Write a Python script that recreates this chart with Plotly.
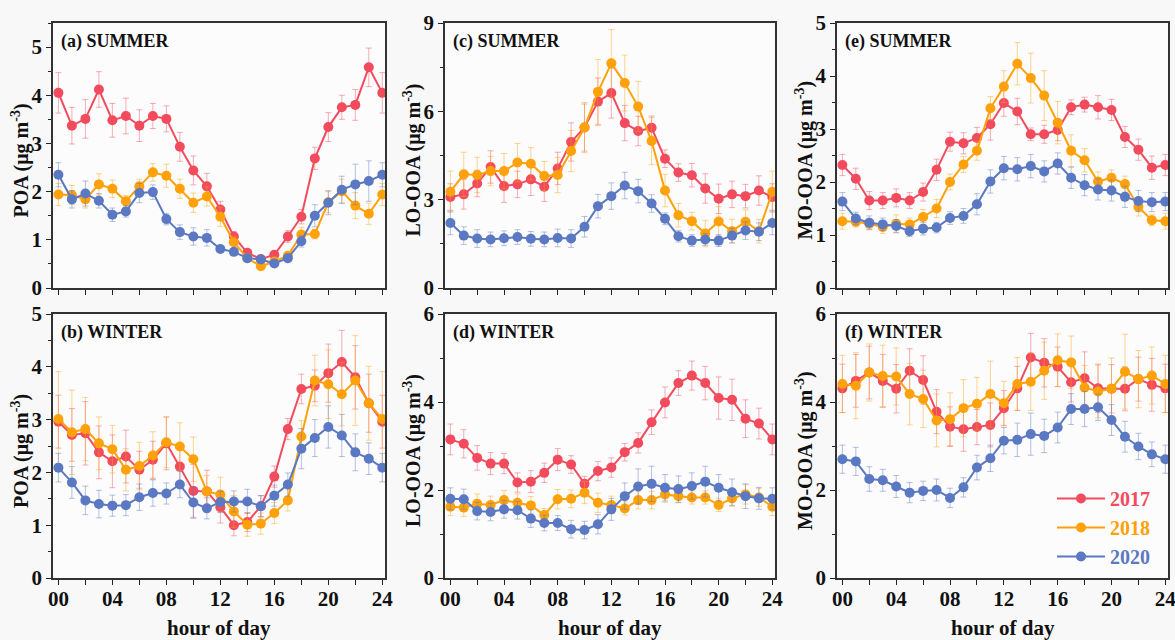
import plotly.graph_objects as go
from plotly.subplots import make_subplots

hours = list(range(25))
years = ["2017", "2018", "2020"]
colors = {"2017": "#F24B5D", "2018": "#FFA10A", "2020": "#5B78C2"}
err_colors = {"2017": "rgba(242,75,93,0.45)", "2018": "rgba(255,161,10,0.45)", "2020": "rgba(91,120,194,0.45)"}

x_ticktext = ["00", "04", "08", "12", "16", "20", "24"]
x_tickvals = [0, 4, 8, 12, 16, 20, 24]
x_title = "hour of day"

# (a) POA summer
poa_sum_2017 = [4.05,3.37,3.51,4.12,3.48,3.57,3.37,3.57,3.51,2.93,2.44,2.11,1.63,1.07,0.73,0.60,0.69,1.07,1.48,2.69,3.34,3.75,3.80,4.58,4.05]
poa_sum_2018 = [1.94,1.93,1.84,2.15,2.06,1.80,2.11,2.40,2.33,2.06,1.77,1.90,1.48,0.95,0.62,0.45,0.55,0.67,1.11,1.12,1.78,2.01,1.71,1.54,1.94]
poa_sum_2020 = [2.35,1.84,1.96,1.81,1.52,1.59,1.97,1.99,1.43,1.16,1.07,1.04,0.81,0.75,0.62,0.59,0.51,0.62,0.97,1.50,1.77,2.04,2.15,2.22,2.35]
poa_sum_2017_err = [0.42,0.38,0.4,0.37,0.35,0.37,0.33,0.26,0.27,0.3,0.3,0.27,0.17,0.1,0.06,0.05,0.06,0.12,0.15,0.23,0.3,0.25,0.32,0.4,0.42]
poa_sum_2018_err = [0.23,0.2,0.18,0.22,0.18,0.12,0.15,0.18,0.24,0.2,0.2,0.2,0.2,0.12,0.05,0.05,0.05,0.08,0.15,0.1,0.22,0.25,0.27,0.22,0.23]
poa_sum_2020_err = [0.25,0.18,0.26,0.15,0.14,0.12,0.2,0.15,0.12,0.15,0.18,0.17,0.07,0.05,0.05,0.04,0.05,0.08,0.12,0.23,0.25,0.28,0.42,0.42,0.25]

# (b) POA winter
poa_win_2017 = [2.96,2.71,2.74,2.38,2.21,2.30,2.05,2.24,2.55,2.11,1.65,1.64,1.34,1.00,1.06,1.36,1.92,2.82,3.58,3.64,3.88,4.09,3.80,3.31,2.96]
poa_win_2018 = [3.01,2.76,2.82,2.55,2.44,2.05,2.12,2.32,2.57,2.49,2.25,1.64,1.58,1.26,1.01,1.03,1.23,1.47,2.68,3.74,3.67,3.48,3.74,3.31,3.01]
poa_win_2020 = [2.09,1.81,1.47,1.40,1.37,1.38,1.53,1.61,1.60,1.77,1.43,1.32,1.44,1.45,1.45,1.36,1.56,1.77,2.45,2.65,2.86,2.70,2.38,2.26,2.09]
poa_win_2017_err = [0.5,0.5,0.6,0.5,0.5,0.5,0.35,0.35,0.5,0.4,0.5,0.4,0.3,0.2,0.18,0.2,0.2,0.2,0.28,0.3,0.55,0.6,0.6,0.55,0.5]
poa_win_2018_err = [0.9,0.8,0.6,0.5,0.45,0.4,0.45,0.45,0.48,0.45,0.42,0.3,0.33,0.3,0.22,0.2,0.2,0.2,0.3,0.48,0.65,0.6,0.85,0.7,0.9]
poa_win_2020_err = [0.27,0.3,0.27,0.26,0.2,0.2,0.25,0.25,0.2,0.25,0.3,0.2,0.2,0.2,0.23,0.2,0.2,0.22,0.38,0.35,0.4,0.4,0.35,0.3,0.27]

# (c) LO-OOA summer
lo_sum_2017 = [3.09,3.18,3.55,4.11,3.46,3.52,3.69,3.44,4.06,4.96,5.45,6.33,6.62,5.60,5.33,5.44,4.39,3.92,3.83,3.38,3.03,3.18,3.12,3.31,3.09]
lo_sum_2018 = [3.27,3.86,3.84,3.97,3.97,4.26,4.22,3.80,3.84,4.65,5.45,6.66,7.63,6.96,6.16,4.99,3.31,2.47,2.27,1.85,2.26,1.93,2.25,1.93,3.27]
lo_sum_2020 = [2.21,1.78,1.68,1.65,1.69,1.73,1.67,1.65,1.70,1.68,2.08,2.78,3.12,3.48,3.29,2.87,2.35,1.76,1.61,1.65,1.61,1.78,1.95,1.91,2.21]
lo_sum_2017_err = [0.45,0.5,0.45,0.55,0.55,0.45,0.55,0.5,0.55,0.65,0.8,0.8,0.85,0.6,0.5,0.4,0.3,0.3,0.4,0.5,0.5,0.45,0.4,0.5,0.45]
lo_sum_2018_err = [0.7,0.75,0.6,0.5,0.6,0.65,0.55,0.5,0.6,0.7,0.85,1.1,1.15,0.95,0.85,0.8,0.55,0.4,0.3,0.45,0.5,0.4,0.4,0.4,0.7]
lo_sum_2020_err = [0.4,0.3,0.3,0.25,0.25,0.25,0.25,0.25,0.3,0.3,0.35,0.4,0.45,0.45,0.4,0.3,0.2,0.2,0.2,0.2,0.2,0.25,0.3,0.3,0.4]

# (d) LO-OOA winter
lo_win_2017 = [3.15,3.05,2.73,2.60,2.60,2.17,2.19,2.39,2.69,2.58,2.14,2.43,2.51,2.86,3.07,3.54,3.99,4.43,4.60,4.43,4.09,4.05,3.62,3.51,3.15]
lo_win_2018 = [1.62,1.60,1.69,1.66,1.77,1.71,1.65,1.43,1.79,1.80,1.94,1.71,1.66,1.58,1.77,1.77,1.90,1.86,1.83,1.83,1.66,1.81,1.90,1.83,1.62]
lo_win_2020 = [1.80,1.79,1.52,1.50,1.56,1.54,1.35,1.25,1.25,1.11,1.09,1.22,1.56,1.86,2.08,2.14,2.05,2.02,2.09,2.19,2.05,1.95,1.86,1.81,1.80]
lo_win_2017_err = [0.35,0.32,0.28,0.25,0.23,0.22,0.25,0.22,0.25,0.2,0.17,0.22,0.22,0.2,0.23,0.28,0.35,0.28,0.33,0.38,0.48,0.47,0.43,0.35,0.35]
lo_win_2018_err = [0.2,0.2,0.22,0.2,0.22,0.2,0.2,0.15,0.22,0.2,0.25,0.22,0.2,0.15,0.2,0.2,0.18,0.15,0.15,0.15,0.15,0.18,0.22,0.2,0.2]
lo_win_2020_err = [0.25,0.23,0.2,0.2,0.2,0.2,0.2,0.18,0.17,0.2,0.2,0.22,0.25,0.3,0.4,0.4,0.3,0.3,0.3,0.35,0.3,0.3,0.28,0.25,0.25]

# (e) MO-OOA summer
mo_sum_2017 = [2.32,2.06,1.65,1.65,1.70,1.65,1.81,2.23,2.76,2.73,2.83,3.09,3.49,3.33,2.90,2.90,2.98,3.41,3.46,3.41,3.36,2.85,2.61,2.27,2.32]
mo_sum_2018 = [1.26,1.25,1.21,1.15,1.21,1.20,1.34,1.50,2.00,2.33,2.59,3.39,3.80,4.23,3.96,3.63,3.12,2.59,2.41,2.01,2.08,1.96,1.53,1.28,1.26]
mo_sum_2020 = [1.63,1.31,1.23,1.20,1.17,1.07,1.12,1.14,1.32,1.36,1.58,2.01,2.26,2.24,2.30,2.20,2.35,2.08,1.94,1.86,1.84,1.72,1.64,1.62,1.63]
mo_sum_2017_err = [0.2,0.2,0.17,0.15,0.17,0.15,0.17,0.2,0.18,0.2,0.2,0.3,0.25,0.25,0.12,0.17,0.2,0.14,0.14,0.22,0.2,0.2,0.2,0.22,0.2]
mo_sum_2018_err = [0.15,0.1,0.1,0.12,0.17,0.12,0.14,0.17,0.15,0.15,0.18,0.22,0.3,0.4,0.47,0.47,0.4,0.3,0.22,0.18,0.15,0.15,0.17,0.1,0.15]
mo_sum_2020_err = [0.17,0.12,0.13,0.12,0.12,0.1,0.12,0.1,0.12,0.14,0.2,0.22,0.22,0.22,0.22,0.2,0.2,0.2,0.2,0.2,0.2,0.2,0.2,0.18,0.17]

# (f) MO-OOA winter
mo_win_2017 = [4.31,4.48,4.67,4.48,4.30,4.71,4.50,3.78,3.44,3.38,3.43,3.48,3.86,4.31,5.01,4.89,4.80,4.45,4.54,4.31,4.30,4.30,4.52,4.39,4.31]
mo_win_2018 = [4.41,4.37,4.67,4.59,4.58,4.18,4.07,3.58,3.61,3.86,3.96,4.18,3.97,4.41,4.46,4.71,4.95,4.90,4.33,4.24,4.30,4.69,4.52,4.60,4.41]
mo_win_2020 = [2.70,2.65,2.25,2.22,2.08,1.94,1.98,2.00,1.82,2.06,2.51,2.72,3.12,3.14,3.27,3.23,3.42,3.84,3.84,3.88,3.59,3.21,2.99,2.81,2.70]
mo_win_2017_err = [0.55,0.6,0.6,0.6,0.55,0.5,0.55,0.5,0.45,0.5,0.4,0.5,0.4,0.5,0.55,0.55,0.45,0.45,0.6,0.55,0.55,0.5,0.5,0.6,0.55]
mo_win_2018_err = [0.65,0.75,0.65,0.7,0.65,0.7,0.65,0.6,0.6,0.65,0.6,0.75,0.5,0.6,0.65,0.65,0.6,0.6,0.5,0.6,0.7,0.85,0.65,0.65,0.65]
mo_win_2020_err = [0.32,0.32,0.28,0.25,0.25,0.23,0.22,0.25,0.22,0.22,0.28,0.3,0.3,0.38,0.48,0.38,0.35,0.35,0.4,0.3,0.35,0.35,0.3,0.28,0.32]

panels = [
    # (row, col, label, ytitle, ymax, dtick, data, errs)
    (1, 1, "(a) SUMMER", "POA (μg m<sup>-3</sup>)", 5.5, 1, [poa_sum_2017, poa_sum_2018, poa_sum_2020], [poa_sum_2017_err, poa_sum_2018_err, poa_sum_2020_err]),
    (2, 1, "(b) WINTER", "POA (μg m<sup>-3</sup>)", 5, 1, [poa_win_2017, poa_win_2018, poa_win_2020], [poa_win_2017_err, poa_win_2018_err, poa_win_2020_err]),
    (1, 2, "(c) SUMMER", "LO-OOA (μg m<sup>-3</sup>)", 9, 3, [lo_sum_2017, lo_sum_2018, lo_sum_2020], [lo_sum_2017_err, lo_sum_2018_err, lo_sum_2020_err]),
    (2, 2, "(d) WINTER", "LO-OOA (μg m<sup>-3</sup>)", 6, 2, [lo_win_2017, lo_win_2018, lo_win_2020], [lo_win_2017_err, lo_win_2018_err, lo_win_2020_err]),
    (1, 3, "(e) SUMMER", "MO-OOA (μg m<sup>-3</sup>)", 5, 1, [mo_sum_2017, mo_sum_2018, mo_sum_2020], [mo_sum_2017_err, mo_sum_2018_err, mo_sum_2020_err]),
    (2, 3, "(f) WINTER", "MO-OOA (μg m<sup>-3</sup>)", 6, 2, [mo_win_2017, mo_win_2018, mo_win_2020], [mo_win_2017_err, mo_win_2018_err, mo_win_2020_err]),
]

W, H = 1175, 640
col_px = {1: (53, 385), 2: (445, 775), 3: (837, 1168)}
row_px = {1: (23, 288), 2: (314, 578)}
ytitle_x = {1: 20, 2: 412, 3: 804}

FONT = "Liberation Serif"
TXT = "#111"
fig = make_subplots(rows=2, cols=3)

for (r, c, label, ytitle, ymax, dtick, data, errs) in panels:
    for yi, y in enumerate(years):
        fig.add_trace(go.Scatter(
            x=hours, y=data[yi], mode="lines+markers",
            name=f'<span style="color:{colors[y]}">{y}</span>',
            line=dict(color=colors[y], width=2),
            marker=dict(color=colors[y], size=10),
            error_y=dict(type="data", array=errs[yi], color=err_colors[y], thickness=1, width=3),
            showlegend=(r == 2 and c == 3),
            legendrank=yi,
        ), row=r, col=c)
    x0, x1 = col_px[c]
    y0, y1 = row_px[r]
    fig.update_xaxes(
        domain=[x0 / W, x1 / W], range=[-0.4, 24.2], automargin=False,
        tickvals=x_tickvals, ticktext=x_ticktext, showticklabels=(r == 2),
        ticks="outside", ticklen=5, tickwidth=1.2, tickcolor="#222",
        ticklabeloverflow="allow", ticklabelstandoff=-4,
        minor=dict(tickvals=[2, 6, 10, 14, 18, 22], ticks="outside", ticklen=5, tickwidth=1.2, tickcolor="#222"),
        showline=True, mirror=True, linecolor="#333", linewidth=1.5,
        showgrid=False, zeroline=False,
        tickfont=dict(family=FONT, size=21, color=TXT, weight="bold"),
        row=r, col=c,
    )
    fig.update_yaxes(
        domain=[1 - y1 / H, 1 - y0 / H], range=[0, ymax], automargin=False,
        dtick=dtick, tick0=0,
        ticks="outside", ticklen=5, tickwidth=1.2, tickcolor="#222",
        ticklabeloverflow="allow",
        minor=dict(dtick=dtick / 2, ticks="outside", ticklen=3, tickwidth=1.2, tickcolor="#222"),
        showline=True, mirror=True, linecolor="#333", linewidth=1.5,
        showgrid=False, zeroline=False,
        tickfont=dict(family=FONT, size=21, color=TXT, weight="bold"),
        row=r, col=c,
    )
    # panel label
    fig.add_annotation(
        x=(x0 + 6) / W, y=1 - (y0 + 18) / H, xref="paper", yref="paper",
        text=f"<b>{label}</b>", showarrow=False, xanchor="left", yanchor="middle",
        font=dict(family=FONT, size=18, color=TXT),
    )
    # y-axis title
    fig.add_annotation(
        x=ytitle_x[c] / W, y=1 - ((y0 + y1) / 2 + 5) / H, xref="paper", yref="paper",
        text=f"<b>{ytitle}</b>", showarrow=False, textangle=-90,
        xanchor="center", yanchor="middle",
        font=dict(family=FONT, size=20, color=TXT),
    )
    # x-axis title (bottom row only)
    if r == 2:
        fig.add_annotation(
            x=((x0 + x1) / 2) / W, y=1 - 628 / H, xref="paper", yref="paper",
            text=f"<b>{x_title}</b>", showarrow=False,
            xanchor="center", yanchor="middle",
            font=dict(family=FONT, size=21, color=TXT),
        )

fig.update_layout(
    width=W, height=H,
    margin=dict(l=0, r=0, t=0, b=0, autoexpand=False),
    paper_bgcolor="#f8f8f8", plot_bgcolor="#fcfcfc",
    font=dict(family=FONT, color=TXT),
    legend=dict(
        x=1052 / W, y=1 - 479 / H, xanchor="left", yanchor="top",
        bgcolor="rgba(0,0,0,0)", font=dict(family=FONT, size=20, weight="bold"),
        itemwidth=48, tracegroupgap=0,
    ),
)

fig.write_html(
    "out.html",
    config={"displayModeBar": False},
    post_script="document.body.style.margin='0';document.body.style.overflow='hidden';",
)
